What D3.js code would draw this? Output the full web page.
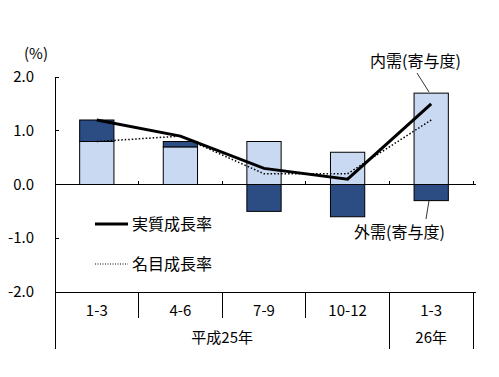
<!DOCTYPE html>
<html>
<head>
<meta charset="utf-8">
<script src="https://cdn.jsdelivr.net/npm/d3@7"></script>
<style>
  body { margin: 0; background: #fff; }
  text { font-family: "Noto Sans CJK JP", sans-serif; fill: #000; }
</style>
</head>
<body>
<div id="chart"></div>
<script>
// quarters and the year groups under them
const quarters = ["1-3", "4-6", "7-9", "10-12", "1-3"];
const yearGroups = [
  { label: "平成25年", from: 0, to: 3 },
  { label: "26年", from: 4, to: 4 }
];
// contributions (%)
const domestic = [0.8, 0.7, 0.8, 0.6, 1.7];   // 内需(寄与度)
const external = [0.4, 0.1, -0.5, -0.6, -0.3]; // 外需(寄与度)
// growth rates (%)
const realGrowth = [1.2, 0.9, 0.3, 0.1, 1.5];    // 実質成長率
const nominalGrowth = [0.8, 0.9, 0.2, 0.2, 1.2]; // 名目成長率
const yTicks = [2.0, 1.0, 0.0, -1.0, -2.0];

const W = 499, H = 377;
const plot = { left: 55, right: 473, top: 77, bottom: 292 };

const svg = d3.select("#chart").append("svg")
  .attr("width", W).attr("height", H);

const x = d3.scaleBand()
  .domain(d3.range(quarters.length))
  .range([plot.left, plot.right])
  .paddingInner(0).paddingOuter(0);

const y = d3.scaleLinear().domain([-2, 2]).range([plot.bottom, plot.top]);

const barW = x.bandwidth() * 0.41;
const cx = i => x(i) + x.bandwidth() / 2;
const edge = i => (i < quarters.length ? x(i) : plot.right);

// bars: domestic from 0, external stacked on top if positive, below 0 if negative
const bars = svg.append("g");
bars.selectAll(".dom")
  .data(domestic)
  .join("rect")
    .attr("x", (d, i) => cx(i) - barW / 2)
    .attr("width", barW)
    .attr("y", d => y(d))
    .attr("height", d => y(0) - y(d))
    .attr("fill", "#c9d9f1")
    .attr("stroke", "#000")
    .attr("stroke-width", 1);

bars.selectAll(".ext")
  .data(external)
  .join("rect")
    .attr("x", (d, i) => cx(i) - barW / 2)
    .attr("width", barW)
    .attr("y", (d, i) => d >= 0 ? y(domestic[i] + d) : y(0))
    .attr("height", (d, i) => d >= 0 ? y(domestic[i]) - y(domestic[i] + d) : y(d) - y(0))
    .attr("fill", "#2b4d84")
    .attr("stroke", "#000")
    .attr("stroke-width", 1);

// axes
const ax = svg.append("g").attr("stroke", "#000").attr("stroke-width", 1).attr("shape-rendering", "crispEdges");
ax.append("line").attr("x1", plot.left).attr("x2", plot.left).attr("y1", plot.top).attr("y2", 349);
ax.append("line").attr("x1", plot.left).attr("x2", plot.right + 3).attr("y1", y(0)).attr("y2", y(0));
ax.append("line").attr("x1", plot.left).attr("x2", plot.right + 3).attr("y1", plot.bottom).attr("y2", plot.bottom);

ax.selectAll(".yt")
  .data(yTicks)
  .join("line")
    .attr("x1", plot.left).attr("x2", plot.left + 4)
    .attr("y1", d => y(d)).attr("y2", d => y(d));

// small ticks on the zero line
ax.selectAll(".zt")
  .data(d3.range(1, quarters.length + 1))
  .join("line")
    .attr("x1", edge).attr("x2", edge)
    .attr("y1", y(0) - 4).attr("y2", y(0));

// separators under the category axis
ax.selectAll(".sep")
  .data(d3.range(1, quarters.length + 1))
  .join("line")
    .attr("x1", edge).attr("x2", edge)
    .attr("y1", plot.bottom)
    .attr("y2", i => (i >= 4 ? 349 : 318));

svg.selectAll(".ylab")
  .data(yTicks)
  .join("text")
    .attr("x", 34)
    .attr("y", d => y(d) + 5)
    .attr("text-anchor", "end")
    .style("font-size", "15px")
    .text(d => d.toFixed(1));

svg.append("text").attr("x", 24).attr("y", 59).style("font-size", "15px").text("(%)");

svg.selectAll(".qlab")
  .data(quarters)
  .join("text")
    .attr("x", (d, i) => cx(i))
    .attr("y", 316)
    .attr("text-anchor", "middle")
    .style("font-size", "15px")
    .text(d => d);

svg.selectAll(".glab")
  .data(yearGroups)
  .join("text")
    .attr("x", d => (x(d.from) + x(d.to) + x.bandwidth()) / 2)
    .attr("y", 343)
    .attr("text-anchor", "middle")
    .style("font-size", "15px")
    .text(d => d.label);

// lines
const line = d3.line().x((d, i) => cx(i)).y(d => y(d));
svg.append("path")
  .attr("d", line(nominalGrowth))
  .attr("fill", "none")
  .attr("stroke", "#000")
  .attr("stroke-width", 1.5)
  .attr("stroke-dasharray", "1.5,2");
svg.append("path")
  .attr("d", line(realGrowth))
  .attr("fill", "none")
  .attr("stroke", "#000")
  .attr("stroke-width", 3);

// legend
const lg = svg.append("g");
lg.append("line").attr("x1", 95).attr("x2", 128).attr("y1", 224).attr("y2", 224)
  .attr("stroke", "#000").attr("stroke-width", 3);
lg.append("text").attr("x", 132).attr("y", 230).style("font-size", "16px").text("実質成長率");
lg.append("line").attr("x1", 95).attr("x2", 128).attr("y1", 264).attr("y2", 264)
  .attr("stroke", "#000").attr("stroke-width", 1).attr("stroke-dasharray", "1,1.5");
lg.append("text").attr("x", 132).attr("y", 270).style("font-size", "16px").text("名目成長率");

// annotations
svg.append("text").attr("x", 370).attr("y", 67).style("font-size", "16px").text("内需(寄与度)");
svg.append("line").attr("x1", 417).attr("y1", 73).attr("x2", 429).attr("y2", 92)
  .attr("stroke", "#000").attr("stroke-width", 0.8);
svg.append("text").attr("x", 354).attr("y", 238).style("font-size", "16px").text("外需(寄与度)");
svg.append("line").attr("x1", 429).attr("y1", y(external[4])).attr("x2", 426).attr("y2", 219)
  .attr("stroke", "#000").attr("stroke-width", 0.8);
</script>
</body>
</html>
